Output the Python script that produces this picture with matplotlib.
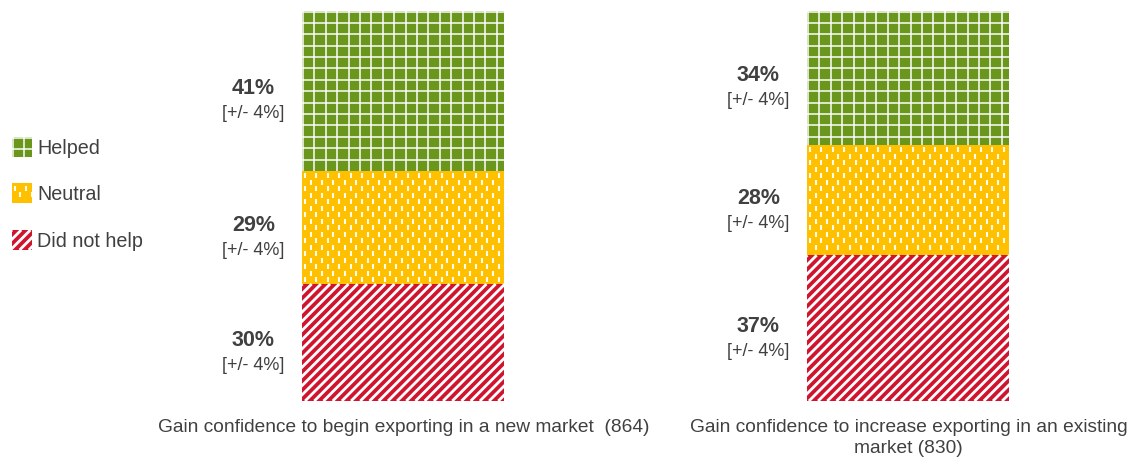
import numpy as np
import matplotlib
matplotlib.use("Agg")
import matplotlib.pyplot as plt
from matplotlib.collections import LineCollection
from matplotlib.patches import Rectangle
from matplotlib.transforms import IdentityTransform

plt.rcParams['font.family'] = ['Liberation Sans', 'DejaVu Sans']

# ---- data -------------------------------------------------------------
categories = [
    "Gain confidence to begin exporting in a new market  (864)",
    "Gain confidence to increase exporting in an existing\nmarket (830)",
]
series_names = ["Helped", "Neutral", "Did not help"]
helped = [41, 34]
neutral = [29, 28]
did_not_help = [30, 37]
helped_moe = [4, 4]
neutral_moe = [4, 4]
did_not_help_moe = [4, 4]

GREEN = "#6b961c"
YELLOW = "#ffc000"
RED = "#d0142e"
TEXT = "#404040"

W, H, DPI = 1138, 458, 100
fig = plt.figure(figsize=(W / DPI, H / DPI), dpi=DPI)
ax = fig.add_axes([0, 57 / H, 1, 390 / H])
ax.set_xlim(-0.799, 1.4545)
ax.set_ylim(0, 100)

x = np.arange(len(categories))
totals = np.array(helped) + np.array(neutral) + np.array(did_not_help)
share = lambda v: np.array(v, dtype=float) / totals * 100

stack = [
    ("Did not help", share(did_not_help), did_not_help, did_not_help_moe, RED, "stripes"),
    ("Neutral", share(neutral), neutral, neutral_moe, YELLOW, "dashes"),
    ("Helped", share(helped), helped, helped_moe, GREEN, "grid"),
]

renderer = fig.canvas.get_renderer()


def texture_segments(bb, kind):
    segs = []
    if kind == "grid":
        step = 11.4
        xx = bb.x0 + 0.5
        while xx <= bb.x1:
            segs.append([(xx, bb.y0), (xx, bb.y1)])
            xx += step
        yy = bb.y1 - 0.5
        while yy >= bb.y0:
            segs.append([(bb.x0, yy), (bb.x1, yy)])
            yy -= step
    elif kind == "stripes":
        step = 9.2
        h = bb.y1 - bb.y0
        c = bb.x0 - h - step
        while c <= bb.x1 + step:
            segs.append([(c, bb.y0), (c + h, bb.y1)])
            c += step
    elif kind == "dashes":
        col_step, period, dash = 5.7, 13.0, 5.0
        k = 0
        xx = bb.x0 + 2.5
        while xx <= bb.x1:
            yy = bb.y1 - 2.5 - (k % 2) * period / 2
            while yy - dash >= bb.y0 + 1:
                segs.append([(xx, yy), (xx, yy - dash)])
                yy -= period
            xx += col_step
            k += 1
    return segs


def add_texture(patch, kind, container):
    bb = patch.get_window_extent(renderer)
    styles = {"grid": (1.2, 0.9), "stripes": (2.0, 1.0), "dashes": (1.5, 0.95)}
    lw, alpha = styles[kind]
    lc = LineCollection(texture_segments(bb, kind), colors="white", linewidths=lw,
                        alpha=alpha, transform=IdentityTransform(), zorder=3,
                        capstyle="butt")
    lc.set_clip_path(patch)
    if container is ax:
        ax.add_collection(lc, autolim=False)
    else:
        fig.add_artist(lc)


bottom = np.zeros(len(categories))
for name, vals, raw, moe, color, kind in stack:
    bars = ax.bar(x, vals, width=0.4, bottom=bottom, color=color, linewidth=0, zorder=2)
    for bar in bars:
        add_texture(bar, kind, ax)
    for i, (v, r, m) in enumerate(zip(vals, raw, moe)):
        yc = bottom[i] + v / 2
        ax.annotate(f"{r}%", (x[i] - 0.297, yc), xytext=(0, 1.5), textcoords="offset points",
                    ha="center", va="center", fontsize=15.5, fontweight="bold", color=TEXT)
        ax.annotate(f"[+/- {m}%]", (x[i] - 0.297, yc), xytext=(0, -16.5), textcoords="offset points",
                    ha="center", va="center", fontsize=13, color=TEXT)
    bottom += vals

ax.set_xticks(x, categories)
ax.tick_params(axis="x", length=0, pad=13, labelsize=13.8, labelcolor=TEXT)
for lbl in ax.get_xticklabels():
    lbl.set_linespacing(1.3)
ax.set_yticks([])
for s in ax.spines.values():
    s.set_visible(False)
ax.patch.set_alpha(0)

# ---- legend -----------------------------------------------------------
legend_items = [("Helped", GREEN, "grid", 147), ("Neutral", YELLOW, "dashes", 193),
                ("Did not help", RED, "stripes", 240)]
for label, color, kind, yc in legend_items:
    sw = Rectangle((12 / W, 1 - (yc + 10) / H), 20 / W, 20 / H, transform=fig.transFigure,
                   facecolor=color, linewidth=0)
    fig.add_artist(sw)
    add_texture(sw, kind, fig)
    fig.text(37 / W, 1 - (yc + 1.5) / H, label, ha="left", va="center", fontsize=14.2, color=TEXT)

fig.savefig("out.png", dpi=DPI)
